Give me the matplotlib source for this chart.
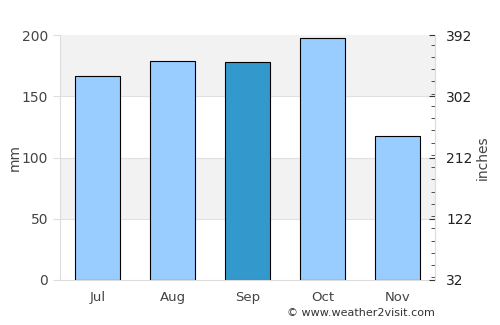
import matplotlib
matplotlib.use("Agg")
import matplotlib.pyplot as plt
from matplotlib.ticker import MultipleLocator

months = ["Jul", "Aug", "Sep", "Oct", "Nov"]
rain_mm = [167, 179, 178, 198, 118]
bar_colors = ["#99ccff", "#99ccff", "#3399cc", "#99ccff", "#99ccff"]
right_ticks = [32, 122, 212, 302, 392]

fig = plt.figure(figsize=(5, 3.25), dpi=100)
ax = fig.add_axes([0.12, 0.1385, 0.75, 0.7535])

# alternating background bands
for lo, hi in [(50, 100), (150, 200)]:
    ax.axhspan(lo, hi, color="#f2f2f2", zorder=0, lw=0)
for y in [50, 100, 150]:
    ax.axhline(y, color="#e0e0e0", lw=0.8, zorder=0.5)

x = range(len(months))
ax.bar(x, rain_mm, width=0.6, color=bar_colors, edgecolor="black", linewidth=0.8, zorder=2)

ax.set_xlim(-0.5, len(months) - 0.5)
ax.set_ylim(0, 200)
ax.set_xticks(list(x))
ax.set_xticklabels(months)
ax.set_yticks([0, 50, 100, 150, 200])
ax.set_ylabel("mm", color="#444444", fontsize=10, labelpad=0)

ax.spines["top"].set_visible(False)
for s in ["left", "bottom", "right"]:
    ax.spines[s].set_color("#dddddd")
ax.tick_params(axis="x", length=0, colors="#444444", labelsize=9.5, pad=8)
ax.tick_params(axis="y", length=5, color="#dddddd", labelcolor="#444444", labelsize=10)

ax2 = ax.twinx()
ax2.set_ylim(32, 392)
ax2.set_yticks(right_ticks)
ax2.yaxis.set_minor_locator(MultipleLocator(18))
ax2.set_ylabel("inches", color="#444444", fontsize=10, labelpad=2)
ax2.tick_params(axis="y", which="major", direction="in", length=4, pad=8,
                color="#333333", labelcolor="#222222", labelsize=10)
ax2.tick_params(axis="y", which="minor", direction="in", length=3, color="#333333")
for s in ["top", "left", "bottom"]:
    ax2.spines[s].set_visible(False)
ax2.spines["right"].set_color("#dddddd")

fig.text(0.87, 0.02, "© www.weather2visit.com", ha="right", va="bottom", fontsize=8, color="#333333")

fig.savefig("out.png", dpi=100)
